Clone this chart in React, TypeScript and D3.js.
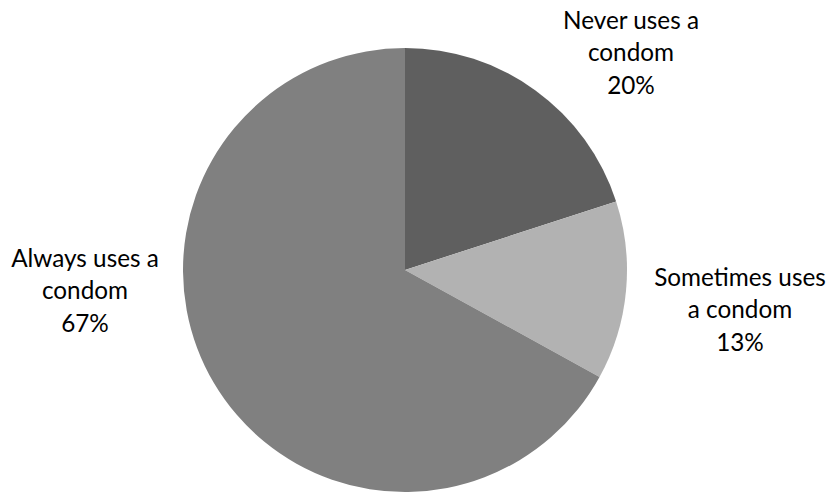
import React from "react";
import * as d3 from "d3";

const categories = ["Never uses a condom", "Sometimes uses a condom", "Always uses a condom"];
const values = [20, 13, 67];
const labelLines = [
  ["Never uses a", "condom", "20%"],
  ["Sometimes uses", "a condom", "13%"],
  ["Always uses a", "condom", "67%"],
];
const colors = ["#5f5f5f", "#b2b2b2", "#808080"];
const labelPos: [number, number][] = [
  [631, 20],
  [740, 277],
  [85, 258],
];

export default function App() {
  const W = 833, H = 495;
  const cx = 405, cy = 270, r = 222;
  const pie = d3.pie<number>().sort(null).value((d) => d);
  const arcs = pie(values);
  const arc = d3.arc<d3.PieArcDatum<number>>().innerRadius(0).outerRadius(r);
  return (
    <svg width={W} height={H} style={{ position: "absolute", left: 0, top: 0 }}>
      <rect width={W} height={H} fill="#fff" />
      <g transform={`translate(${cx},${cy})`}>
        {arcs.map((a, i) => (
          <path key={categories[i]} d={arc(a) || ""} fill={colors[i]} />
        ))}
      </g>
      {labelLines.map((lines, i) => (
        <text
          key={i}
          textAnchor="middle"
          fontFamily="Lato, 'Open Sans', sans-serif"
          fontSize={24.3}
          fill="#000"
        >
          {lines.map((l, j) => (
            <tspan key={j} x={labelPos[i][0]} y={labelPos[i][1] + j * 32.5} dy="0.35em">
              {l}
            </tspan>
          ))}
        </text>
      ))}
    </svg>
  );
}
